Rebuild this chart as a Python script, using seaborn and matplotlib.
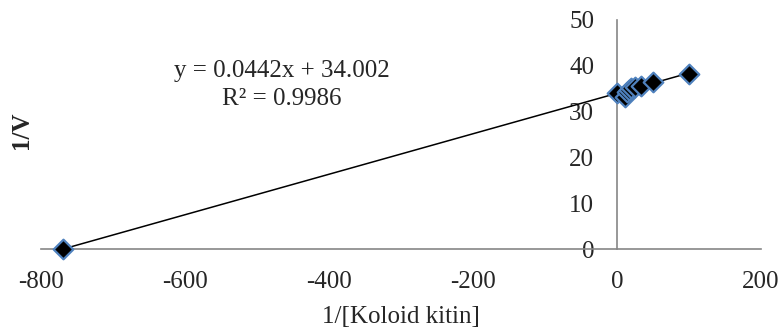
import numpy as np
import pandas as pd
import matplotlib
matplotlib.use("Agg")
import matplotlib.pyplot as plt
import seaborn as sns

# Lineweaver-Burk data
inv_s = [-769.3, 0, 11.1, 14.3, 16.7, 20, 25, 33.3, 50, 100]
inv_v = [0, 34.1, 33.2, 34.3, 34.8, 35.2, 35.4, 35.6, 36.4, 38.3]
slope = 0.0442
intercept = 34.002
r2 = 0.9986
x_ticks = [-800, -600, -400, -200, 0, 200]
y_ticks = [0, 10, 20, 30, 40, 50]

sns.set_style("white")
plt.rcParams['font.family'] = ['Liberation Serif', 'DejaVu Serif']
plt.rcParams['font.size'] = 18
plt.rcParams['axes.unicode_minus'] = False

df = pd.DataFrame({"x": inv_s, "y": inv_v})
fit_x = np.array([min(inv_s), max(inv_s)])
fit = pd.DataFrame({"x": fit_x, "y": slope * fit_x + intercept})

fig = plt.figure(figsize=(7.82, 3.33), dpi=100)
ax = fig.add_axes([41 / 782, 1 - 249 / 333, 720 / 782, 229 / 333])

sns.lineplot(data=fit, x="x", y="y", color="black", linewidth=1.1, ax=ax, zorder=2)
sns.scatterplot(data=df, x="x", y="y", marker="D", s=100, color="black",
                edgecolor="#4F81BD", linewidth=1.6, ax=ax, zorder=3, clip_on=False)

ax.set_xlim(-800, 200)
ax.set_ylim(0, 50)
ax.set_xticks(x_ticks)
ax.set_yticks(y_ticks)

for s in ["top", "right"]:
    ax.spines[s].set_visible(False)
ax.spines["left"].set_position(("data", 0))
for s in ["left", "bottom"]:
    ax.spines[s].set_color("#868686")
    ax.spines[s].set_linewidth(1.2)

ax.tick_params(axis="x", direction="in", length=5, width=1.2, color="#868686",
               pad=16, labelsize=18)
ax.tick_params(axis="y", direction="out", length=5.4, width=1.2, color="#868686",
               pad=11, labelsize=18)

ax.set_xlabel("1/[Koloid kitin]", fontsize=18)
ax.xaxis.set_label_coords(0.5, (249 - 306) / 229)
ax.set_ylabel("")
fig.text(22 / 782, 1 - 130 / 333, "1/V", rotation=90, ha="center", va="center",
         fontsize=18, fontweight="bold")

fig.text(282 / 782, 1 - 77 / 333, f"y = {slope}x + {intercept}", ha="center",
         va="baseline", fontsize=18)
fig.text(282 / 782, 1 - 105 / 333, f"R² = {r2}", ha="center", va="baseline",
         fontsize=18)

fig.savefig("out.png", dpi=100)
